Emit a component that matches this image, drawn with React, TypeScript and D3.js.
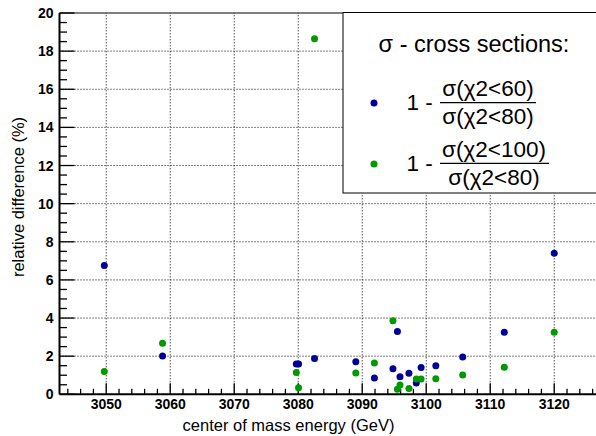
import React from "react";
import * as d3 from "d3";

const energies = [3049.7, 3058.8, 3079.7, 3080.05, 3082.55, 3089.0, 3091.9, 3094.8, 3095.5, 3095.9, 3097.3, 3098.45, 3099.2, 3101.5, 3105.7, 3112.2, 3120.0];
const diff60 = [6.75, 2.01, 1.59, 1.59, 1.88, 1.71, 0.86, 1.34, 3.29, 0.92, 1.10, 0.59, 1.40, 1.50, 1.95, 3.25, 7.40];
const diff100 = [1.19, 2.68, 1.15, 0.35, 18.65, 1.12, 1.64, 3.86, 0.27, 0.49, 0.30, 0.80, 0.80, 0.81, 1.01, 1.42, 3.25];
const xTicks = [3050, 3060, 3070, 3080, 3090, 3100, 3110, 3120];
const yTicks = [0, 2, 4, 6, 8, 10, 12, 14, 16, 18, 20];

const BLUE = "#000099";
const GREEN = "#009900";
const FONT = "'Liberation Sans', Arial, Helvetica, sans-serif";

export default function App() {
  const left = 59.5, top = 13, bottom = 394.3, right = 602;
  const x = d3.scaleLinear().domain([3042.7, 3042.7 + (right - left) / 6.4]).range([left, right]);
  const y = d3.scaleLinear().domain([0, 20]).range([bottom, top]);
  const xMinor = d3.range(3044, 3128, 2).filter((v) => v % 10 !== 0);
  const yMinor = d3.range(0, 20.01, 0.5).filter((v) => v % 2 !== 0);

  const pts60 = energies.map((e, i) => ({ e, v: diff60[i] }));
  const pts100 = energies.map((e, i) => ({ e, v: diff100[i] }));

  return (
    <svg width={596} height={436} style={{ position: "absolute", left: 0, top: 0, background: "#fff" }} fontFamily={FONT}>
      <rect x={0} y={0} width={596} height={436} fill="#fff" />
      {/* grid */}
      {xTicks.map((t) => (
        <line key={"gx" + t} x1={x(t)} x2={x(t)} y1={bottom} y2={top} stroke="#000" strokeWidth={1} strokeDasharray="1 2" />
      ))}
      {yTicks.filter((t) => t > 0 && t < 20).map((t) => (
        <line key={"gy" + t} x1={left} x2={right} y1={y(t)} y2={y(t)} stroke="#000" strokeWidth={1} strokeDasharray="1 2" />
      ))}
      {/* frame top */}
      <line x1={left} x2={right} y1={top} y2={top} stroke="#000" strokeWidth={1} />
      {/* axes */}
      <line x1={left} x2={left} y1={bottom} y2={top} stroke="#000" strokeWidth={2} />
      <line x1={left} x2={right} y1={bottom} y2={bottom} stroke="#000" strokeWidth={2} />
      {xTicks.map((t) => (
        <line key={"xt" + t} x1={x(t)} x2={x(t)} y1={bottom} y2={bottom - 11} stroke="#000" strokeWidth={1.3} />
      ))}
      {xMinor.map((t) => (
        <line key={"xm" + t} x1={x(t)} x2={x(t)} y1={bottom} y2={bottom - 5.5} stroke="#000" strokeWidth={1.3} />
      ))}
      {yTicks.map((t) => (
        <line key={"yt" + t} x1={left} x2={left + 15} y1={y(t)} y2={y(t)} stroke="#000" strokeWidth={1.3} />
      ))}
      {yMinor.map((t) => (
        <line key={"ym" + t} x1={left} x2={left + 7.5} y1={y(t)} y2={y(t)} stroke="#000" strokeWidth={1.3} />
      ))}
      {xTicks.map((t) => (
        <text key={"xl" + t} x={x(t)} y={408.5} fontSize={14} fontWeight="bold" textAnchor="middle" fill="#000">{t}</text>
      ))}
      {yTicks.map((t) => (
        <text key={"yl" + t} x={53.5} y={y(t) + 5} fontSize={14} fontWeight="bold" textAnchor="end" fill="#000">{t}</text>
      ))}
      <text x={288.5} y={431} fontSize={16.5} textAnchor="middle" fill="#000">center of mass energy (GeV)</text>
      <text transform="translate(23.5,197) rotate(-90)" fontSize={16.5} textAnchor="middle" fill="#000">relative difference (%)</text>

      {/* points */}
      {pts60.map((p, i) => (
        <circle key={"b" + i} cx={x(p.e)} cy={y(p.v)} r={3.5} fill={BLUE} />
      ))}
      {pts100.map((p, i) => (
        <circle key={"g" + i} cx={x(p.e)} cy={y(p.v)} r={3.5} fill={GREEN} />
      ))}

      {/* legend */}
      <rect x={343} y={12.5} width={260} height={180.5} fill="#fff" stroke="#000" strokeWidth={1} />
      <text x={474} y={52} fontSize={23.5} textAnchor="middle" fill="#000">σ - cross sections:</text>
      <circle cx={374} cy={103} r={3.5} fill={BLUE} />
      <text x={406.5} y={110} fontSize={22.5} fill="#000">1 -</text>
      <text x={488} y={96} fontSize={22.5} textAnchor="middle" fill="#000">σ(χ2&lt;60)</text>
      <line x1={440} x2={536} y1={102.7} y2={102.7} stroke="#000" strokeWidth={1.2} />
      <text x={488} y={124} fontSize={22.5} textAnchor="middle" fill="#000">σ(χ2&lt;80)</text>

      <circle cx={374} cy={164} r={3.5} fill={GREEN} />
      <text x={406.5} y={171} fontSize={22.5} fill="#000">1 -</text>
      <text x={494} y={156.5} fontSize={22.5} textAnchor="middle" fill="#000">σ(χ2&lt;100)</text>
      <line x1={440} x2={549} y1={163.3} y2={163.3} stroke="#000" strokeWidth={1.2} />
      <text x={494} y={184.5} fontSize={22.5} textAnchor="middle" fill="#000">σ(χ2&lt;80)</text>
    </svg>
  );
}
